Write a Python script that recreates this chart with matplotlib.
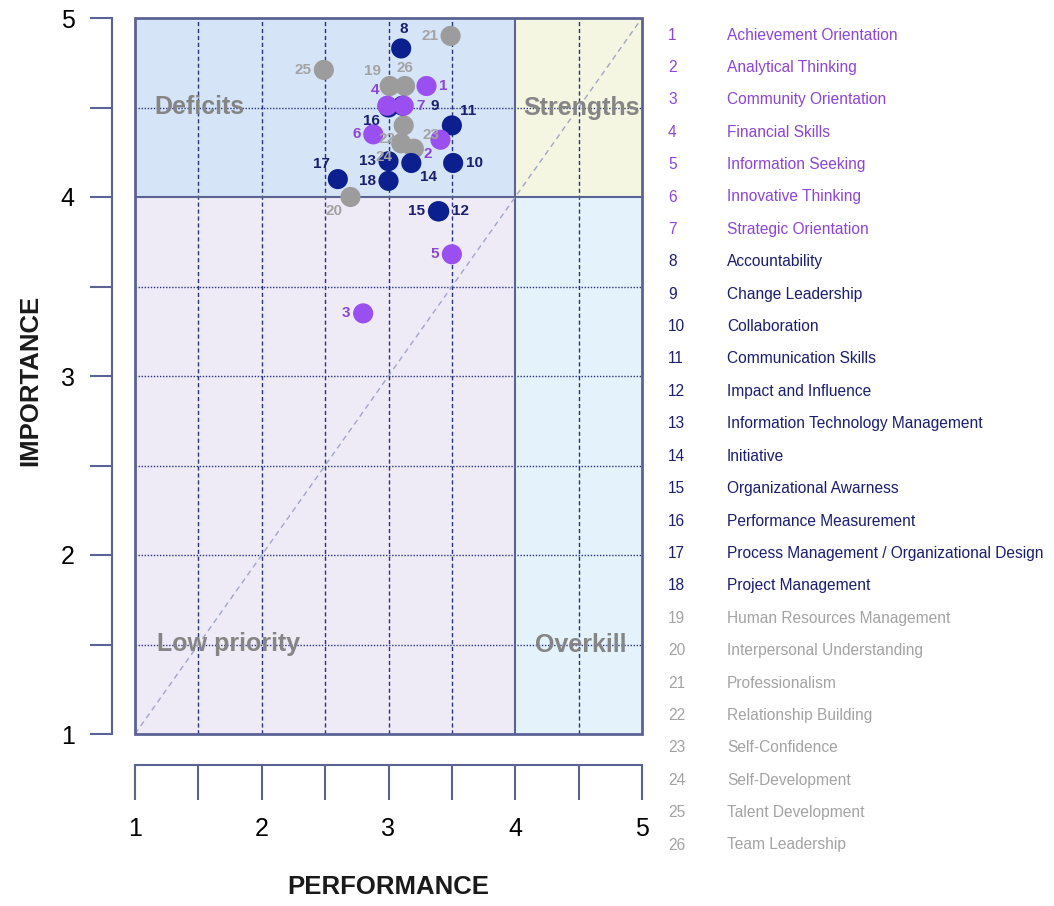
import matplotlib
matplotlib.use('Agg')
import matplotlib.pyplot as plt
from matplotlib.patches import Rectangle

plt.rcParams['font.family'] = ['Liberation Sans', 'DejaVu Sans']

# competency data (performance, importance)
ids = list(range(1, 27))
names = ['Achievement Orientation', 'Analytical Thinking', 'Community Orientation',
         'Financial Skills', 'Information Seeking', 'Innovative Thinking',
         'Strategic Orientation', 'Accountability', 'Change Leadership', 'Collaboration',
         'Communication Skills', 'Impact and Influence',
         'Information Technology Management', 'Initiative', 'Organizational Awarness',
         'Performance Measurement', 'Process Management / Organizational Design',
         'Project Management', 'Human Resources Management',
         'Interpersonal Understanding', 'Professionalism', 'Relationship Building',
         'Self-Confidence', 'Self-Development', 'Talent Development', 'Team Leadership']
performance = [3.30, 3.41, 2.80, 2.99, 3.50, 2.88, 3.12,
               3.10, 3.11, 3.51, 3.50, 3.40, 3.00, 3.18, 3.39, 3.00, 2.60, 3.00,
               3.01, 2.70, 3.49, 3.12, 3.20, 3.10, 2.49, 3.13]
importance = [4.62, 4.32, 3.35, 4.51, 3.68, 4.35, 4.51,
              4.83, 4.51, 4.19, 4.40, 3.92, 4.20, 4.19, 3.92, 4.50, 4.10, 4.09,
              4.62, 4.00, 4.90, 4.40, 4.27, 4.30, 4.71, 4.62]
group = ['p'] * 7 + ['n'] * 11 + ['g'] * 8
# where each point's number sits relative to its dot
label_pos = ['r', 'll', 'l', 'ul', 'l', 'l', 'r',
             't', 'r2', 'r', 'ur', 'r', 'l', 'lr', 'l', 'll', 'ul', 'l',
             'ul', 'll', 'l', 'll', 'ur', 'll', 'l', 'ut']

dot_col = {'p': '#9a4ff0', 'n': '#0b1f8e', 'g': '#9c9c9c'}
txt_col = {'p': '#8c45d6', 'n': '#1b1d6e', 'g': '#a3a3a3'}
frame = '#5b6394'
grid = '#27317f'

fig = plt.figure(figsize=(10.54, 9.06), dpi=100)
ax = fig.add_axes([135 / 1054, 1 - 734 / 906, 507 / 1054, 716 / 906])
ax.set_xlim(1, 5)
ax.set_ylim(1, 5)

# quadrants
ax.add_patch(Rectangle((1, 4), 3, 1, fc='#d5e5f7', ec='none', zorder=0))
ax.add_patch(Rectangle((4, 4), 1, 1, fc='#f4f6e2', ec='none', zorder=0))
ax.add_patch(Rectangle((1, 1), 3, 3, fc='#efebf6', ec='none', zorder=0))
ax.add_patch(Rectangle((4, 1), 1, 3, fc='#e4f3fb', ec='none', zorder=0))

for v in [1.5, 2, 2.5, 3, 3.5, 4.5]:
    ax.axvline(v, color=grid, lw=1, ls=(0, (3, 2)), zorder=1)
    ax.axhline(v, color=grid, lw=1, ls=(0, (1, 1.2)), zorder=1)
ax.axvline(4, color=frame, lw=1.5, zorder=1)
ax.axhline(4, color=frame, lw=1.5, zorder=1)
ax.plot([1, 5], [1, 5], color='#a0a6c6', lw=1, ls=(0, (4, 3)), zorder=1)
ax.add_patch(Rectangle((1, 1), 4, 4, fc='none', ec=frame, lw=2, zorder=5, clip_on=False))

qkw = dict(fontsize=18, fontweight='bold', color='#858585', va='center', zorder=2)
ax.text(1.15, 4.5, 'Deficits', ha='left', **qkw)
ax.text(4.52, 4.5, 'Strengths', ha='center', **qkw)
ax.text(1.17, 1.5, 'Low priority', ha='left', **qkw)
ax.text(4.52, 1.5, 'Overkill', ha='center', **qkw)

offs = {'r': (9, 0, 'left', 'center'), 'r2': (20, 0, 'left', 'center'),
        'l': (-9, 0, 'right', 'center'), 't': (2, 9, 'center', 'bottom'),
        'ut': (0, 8, 'center', 'bottom'),
        'ul': (-6, 6, 'right', 'bottom'), 'll': (-6, -5, 'right', 'top'),
        'ur': (6, 5, 'left', 'bottom'), 'lr': (6, -5, 'left', 'top')}

for g in ['g', 'n', 'p']:
    xs = [performance[i] for i in range(26) if group[i] == g]
    ys = [importance[i] for i in range(26) if group[i] == g]
    ax.scatter(xs, ys, s=210, color=dot_col[g], edgecolors='none', zorder=3)

for i in range(26):
    dx, dy, ha, va = offs[label_pos[i]]
    ax.annotate(str(ids[i]), (performance[i], importance[i]), xytext=(dx, dy),
                textcoords='offset points', ha=ha, va=va, fontsize=11,
                fontweight='bold', color=txt_col[group[i]], zorder=4)

# detached R-style axes
for s in ['top', 'right']:
    ax.spines[s].set_visible(False)
ax.spines['left'].set_position(('outward', 16.5))
ax.spines['bottom'].set_position(('outward', 22))
for s in ['left', 'bottom']:
    ax.spines[s].set_color(frame)
    ax.spines[s].set_linewidth(1.5)
ticks = [1, 1.5, 2, 2.5, 3, 3.5, 4, 4.5, 5]
tick_labels = ['1', '', '2', '', '3', '', '4', '', '5']
ax.set_xticks(ticks)
ax.set_xticklabels(tick_labels)
ax.set_yticks(ticks)
ax.set_yticklabels(tick_labels)
ax.tick_params(axis='y', length=16, width=1.5, color=frame, labelsize=18, pad=11)
ax.tick_params(axis='x', length=25, width=1.5, color=frame, labelsize=18, pad=13)

fig.text(30 / 1054, 1 - 380 / 906, 'IMPORTANCE', rotation=90, ha='center', va='center',
         fontsize=18.5, fontweight='bold', color='#1a1a1a')
fig.text(388 / 1054, 1 - 887 / 906, 'PERFORMANCE', ha='center', va='center',
         fontsize=18.5, fontweight='bold', color='#1a1a1a')

# legend list on the right
top, bot = 1 - 35 / 906, 1 - 845 / 906
for i in range(26):
    y = top - i * (top - bot) / 25
    c = txt_col[group[i]]
    fig.text(668 / 1054, y, str(ids[i]), ha='left', va='center', fontsize=11.2, color=c)
    fig.text(727 / 1054, y, names[i], ha='left', va='center', fontsize=11.2, color=c)

fig.savefig('out.png', dpi=100)
